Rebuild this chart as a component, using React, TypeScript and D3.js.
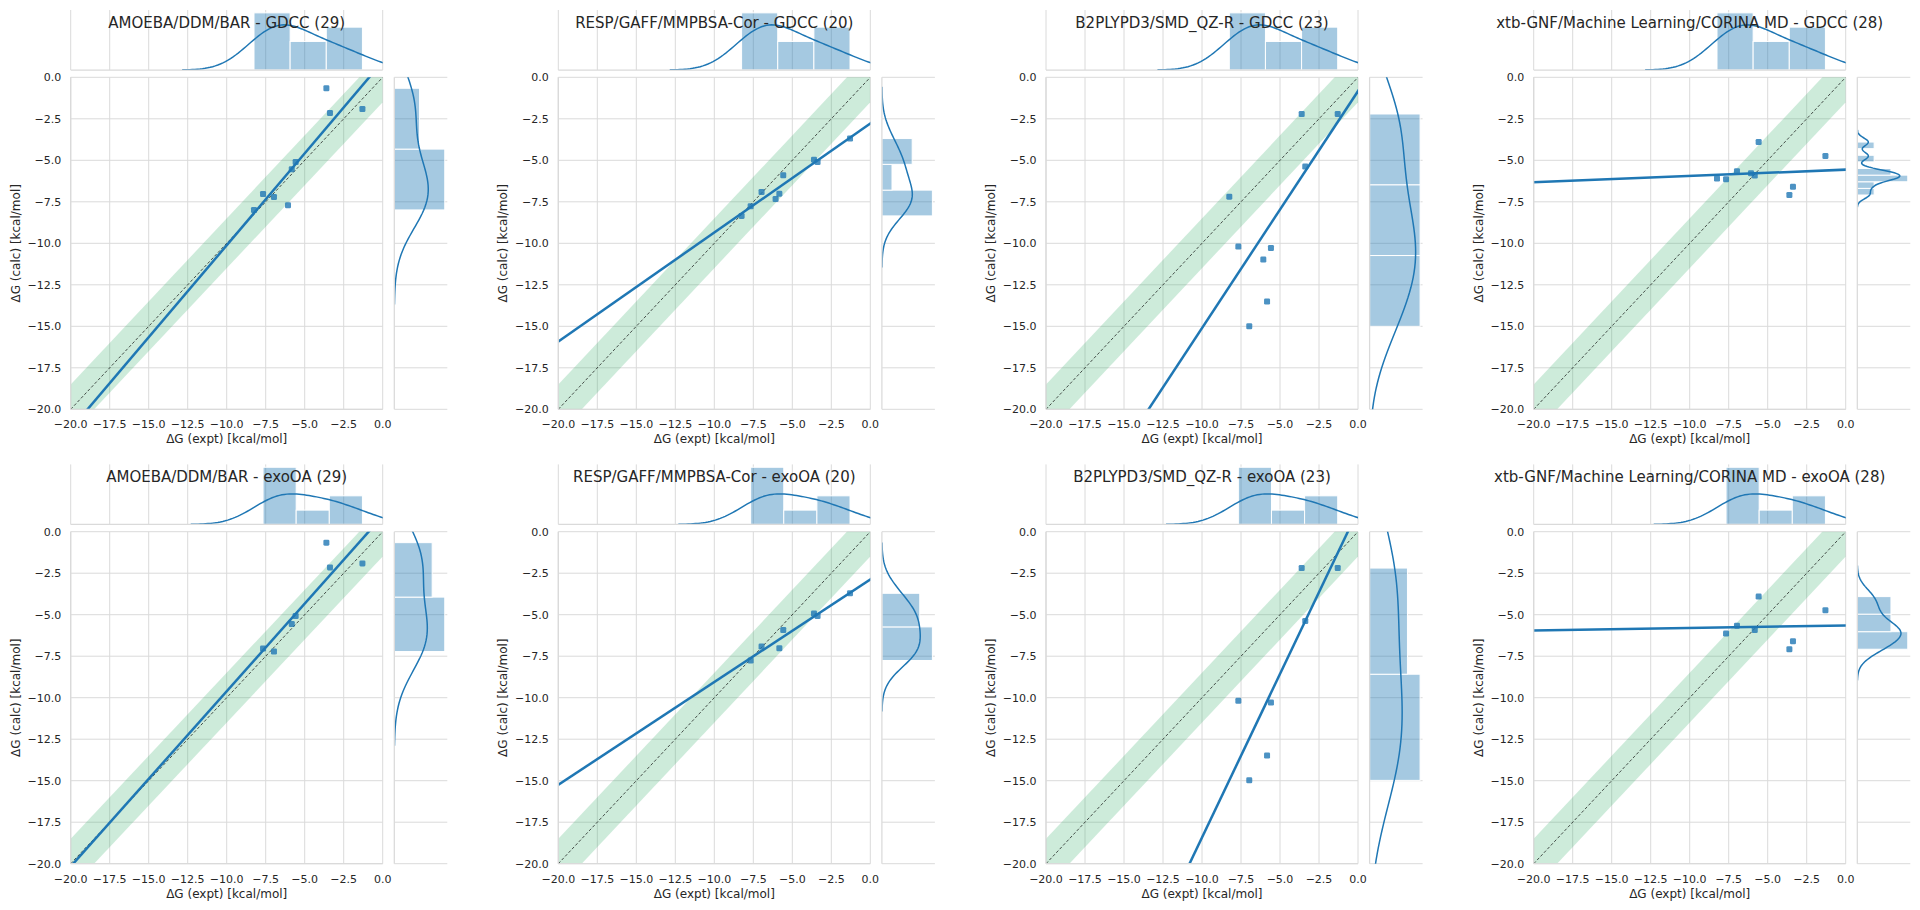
import React from "react";
import * as d3 from "d3";

// experimental values (x axis), same order as the calc arrays below
const EXPT_GDCC = [-8.25, -7.67, -6.97, -6.07, -5.83, -5.58, -3.61, -3.38, -1.3];
const EXPT_EXOOA = [-7.67, -6.97, -5.83, -5.58, -3.61, -3.38, -1.3];

// calculated values per method
const AMOEBA_GDCC = [-7.99, -7.03, -7.21, -7.71, -5.54, -5.1, -0.66, -2.15, -1.91];
const RESP_GDCC = [-8.35, -7.77, -6.91, -7.33, -7.01, -5.9, -4.96, -5.1, -3.69];
const B2PLYP_GDCC = [-7.19, -10.2, -15.0, -10.98, -13.51, -10.28, -2.21, -5.38, -2.21];
const XTB_GDCC = [-6.1, -6.14, -5.66, -5.78, -5.92, -3.9, -7.09, -6.59, -4.74];

const AMOEBA_EXOOA = [-7.04, -7.22, -5.56, -5.08, -0.66, -2.15, -1.91];
const RESP_EXOOA = [-7.76, -6.92, -7.02, -5.92, -4.93, -5.08, -3.71];
const B2PLYP_EXOOA = [-10.19, -14.98, -13.48, -10.29, -2.19, -5.38, -2.19];
const XTB_EXOOA = [-6.14, -5.66, -5.92, -3.91, -7.08, -6.6, -4.73];

const TITLES_GDCC = [
    "AMOEBA/DDM/BAR - GDCC (29)",
    "RESP/GAFF/MMPBSA-Cor - GDCC (20)",
    "B2PLYPD3/SMD_QZ-R - GDCC (23)",
    "xtb-GNF/Machine Learning/CORINA MD - GDCC (28)",
];
const TITLES_EXOOA = [
    "AMOEBA/DDM/BAR - exoOA (29)",
    "RESP/GAFF/MMPBSA-Cor - exoOA (20)",
    "B2PLYPD3/SMD_QZ-R - exoOA (23)",
    "xtb-GNF/Machine Learning/CORINA MD - exoOA (28)",
];

// histogram bin counts of the marginals
const BINS_X = 3;
const BINS_Y_GDCC = [2, 3, 3, 8];
const BINS_Y_EXOOA = [2, 2, 2, 3];

const TICKS = [-20, -17.5, -15, -12.5, -10, -7.5, -5, -2.5, 0];
const BAND = 1.5;

const X_LABEL = "ΔG (expt) [kcal/mol]";
const Y_LABEL = "ΔG (calc) [kcal/mol]";

// layout
const COL_X = [70.7, 558.3, 1046, 1533.7];
const ROW_Y = [77.3, 531.7];
const MAIN_W = 312;
const MAIN_H = 332;
const MARG_H = 60;
const MARG_GAP_Y = 7.3;
const MARG_GAP_X = 11.6;
const MARG_W = 53;

const BLUE = "#1f77b4";
const GRID = "#dadada";
const TEXT = "#262626";
const FONT = "DejaVu Sans, sans-serif";

const fmt = d3.format(".1f");

type Panel = {
    id: string;
    title: string;
    expt: number[];
    calc: number[];
    binsY: number;
    left: number;
    top: number;
};

// statsmodels-like gaussian kde (scott bandwidth, cut=3, 100 pts)
function kdeCurve(values: number[]) {
    const n = values.length;
    const sorted = [...values].sort(d3.ascending);
    const sd = d3.deviation(values) as number;
    const iqr = (d3.quantileSorted(sorted, 0.75) as number) - (d3.quantileSorted(sorted, 0.25) as number);
    const bw = 1.059 * Math.min(sd, iqr / 1.349) * Math.pow(n, -0.2);
    const lo = (d3.min(values) as number) - 3 * bw;
    const hi = (d3.max(values) as number) + 3 * bw;
    return d3.range(100).map((i) => {
        const g = lo + ((hi - lo) * i) / 99;
        const dens =
            d3.sum(values, (v) => Math.exp(-0.5 * ((g - v) / bw) ** 2)) /
            (n * bw * Math.sqrt(2 * Math.PI));
        return [g, dens] as [number, number];
    });
}

function histBins(values: number[], nb: number) {
    const [lo, hi] = d3.extent(values) as [number, number];
    const w = (hi - lo) / nb;
    const binner = d3
        .bin()
        .domain([lo, hi])
        .thresholds(d3.range(1, nb).map((k) => lo + k * w));
    return binner(values).map((b) => ({
        x0: b.x0 as number,
        x1: b.x1 as number,
        d: b.length / (values.length * w),
    }));
}

function linearFit(xs: number[], ys: number[]) {
    const mx = d3.mean(xs) as number;
    const my = d3.mean(ys) as number;
    let sxy = 0;
    let sxx = 0;
    xs.forEach((x, i) => {
        sxy += (x - mx) * (ys[i] - my);
        sxx += (x - mx) ** 2;
    });
    const slope = sxy / sxx;
    return { slope, intercept: my - slope * mx };
}

const JointPanel = ({ id, title, expt, calc, binsY, left, top }: Panel) => {
    const right = left + MAIN_W;
    const bottom = top + MAIN_H;
    const xScale = d3.scaleLinear().domain([-20, 0]).range([left, right]);
    const yScale = d3.scaleLinear().domain([-20, 0]).range([bottom, top]);

    // top marginal
    const mTop = top - MARG_GAP_Y - MARG_H;
    const mBottom = top - MARG_GAP_Y;
    const histX = histBins(expt, BINS_X);
    const kdeX = kdeCurve(expt);
    const maxX = Math.max(d3.max(histX, (b) => b.d) as number, d3.max(kdeX, (p) => p[1]) as number);
    const dScaleX = d3.scaleLinear().domain([0, maxX * 1.05]).range([mBottom, mTop]);

    // right marginal
    const rLeft = right + MARG_GAP_X;
    const rRight = rLeft + MARG_W;
    const histY = histBins(calc, binsY);
    const kdeY = kdeCurve(calc);
    const maxY = Math.max(d3.max(histY, (b) => b.d) as number, d3.max(kdeY, (p) => p[1]) as number);
    const dScaleY = d3.scaleLinear().domain([0, maxY * 1.05]).range([rLeft, rRight]);

    const lineTop = d3
        .line<[number, number]>()
        .x((p) => xScale(p[0]))
        .y((p) => dScaleX(p[1]));
    const lineRight = d3
        .line<[number, number]>()
        .x((p) => dScaleY(p[1]))
        .y((p) => yScale(p[0]));

    const fit = linearFit(expt, calc);
    const bandPts: [number, number][] = [
        [-20, -20 - BAND],
        [0, -BAND],
        [0, BAND],
        [-20, -20 + BAND],
    ];
    const bandPath = d3.line<[number, number]>().x((p) => xScale(p[0])).y((p) => yScale(p[1]))(bandPts) + "Z";

    return (
        <g>
            <defs>
                <clipPath id={`main-${id}`}>
                    <rect x={left} y={top} width={MAIN_W} height={MAIN_H} />
                </clipPath>
                <clipPath id={`mx-${id}`}>
                    <rect x={left} y={mTop} width={MAIN_W} height={MARG_H} />
                </clipPath>
                <clipPath id={`my-${id}`}>
                    <rect x={rLeft} y={top} width={MARG_W} height={MAIN_H} />
                </clipPath>
            </defs>

            {/* top marginal */}
            {TICKS.map((t) => (
                <line key={`mxg${t}`} x1={xScale(t)} x2={xScale(t)} y1={mTop} y2={mBottom} stroke={GRID} strokeWidth={1} />
            ))}
            <g clipPath={`url(#mx-${id})`}>
                {histX.map((b, i) => (
                    <rect
                        key={i}
                        x={xScale(b.x0)}
                        y={dScaleX(b.d)}
                        width={xScale(b.x1) - xScale(b.x0)}
                        height={mBottom - dScaleX(b.d)}
                        fill={BLUE}
                        fillOpacity={0.4}
                        stroke="#fff"
                        strokeWidth={1}
                    />
                ))}
                <path d={lineTop(kdeX) as string} fill="none" stroke={BLUE} strokeWidth={1.5} />
            </g>
            <line x1={left} x2={right} y1={mBottom} y2={mBottom} stroke={GRID} strokeWidth={1.25} />

            {/* right marginal */}
            {TICKS.map((t) => (
                <line key={`myg${t}`} x1={rLeft} x2={rRight} y1={yScale(t)} y2={yScale(t)} stroke={GRID} strokeWidth={1} />
            ))}
            <g clipPath={`url(#my-${id})`}>
                {histY.map((b, i) => (
                    <rect
                        key={i}
                        x={rLeft}
                        y={yScale(b.x1)}
                        width={dScaleY(b.d) - rLeft}
                        height={yScale(b.x0) - yScale(b.x1)}
                        fill={BLUE}
                        fillOpacity={0.4}
                        stroke="#fff"
                        strokeWidth={1}
                    />
                ))}
                <path d={lineRight(kdeY) as string} fill="none" stroke={BLUE} strokeWidth={1.5} />
            </g>
            <line x1={rLeft} x2={rLeft} y1={top} y2={bottom} stroke={GRID} strokeWidth={1.25} />

            {/* main joint plot */}
            {TICKS.map((t) => (
                <g key={`g${t}`}>
                    <line x1={xScale(t)} x2={xScale(t)} y1={top} y2={bottom} stroke={GRID} strokeWidth={1} />
                    <line x1={left} x2={right} y1={yScale(t)} y2={yScale(t)} stroke={GRID} strokeWidth={1} />
                </g>
            ))}
            <g clipPath={`url(#main-${id})`}>
                <path d={bandPath} fill="#3cb371" fillOpacity={0.26} />
                <line
                    x1={xScale(-20)}
                    y1={yScale(-20)}
                    x2={xScale(0)}
                    y2={yScale(0)}
                    stroke="#000"
                    strokeOpacity={0.85}
                    strokeWidth={0.8}
                    strokeDasharray="3,2"
                />
                {expt.map((x, i) => (
                    <rect
                        key={i}
                        x={xScale(x) - 3}
                        y={yScale(calc[i]) - 3}
                        width={6}
                        height={6}
                        rx={1.3}
                        fill={BLUE}
                        fillOpacity={0.8}
                    />
                ))}
                <line
                    x1={xScale(-25)}
                    y1={yScale(fit.intercept + fit.slope * -25)}
                    x2={xScale(5)}
                    y2={yScale(fit.intercept + fit.slope * 5)}
                    stroke={BLUE}
                    strokeWidth={2.5}
                />
            </g>
            <line x1={left} x2={left} y1={top} y2={bottom} stroke={GRID} strokeWidth={1.25} />
            <line x1={left} x2={right} y1={bottom} y2={bottom} stroke={GRID} strokeWidth={1.25} />

            {/* ticks */}
            {TICKS.map((t) => (
                <text
                    key={`xt${t}`}
                    x={xScale(t)}
                    y={bottom + 19}
                    textAnchor="middle"
                    fontSize={11}
                    fill={TEXT}
                    fontFamily={FONT}
                >
                    {fmt(t)}
                </text>
            ))}
            {TICKS.map((t) => (
                <text
                    key={`yt${t}`}
                    x={left - 9.5}
                    y={yScale(t)}
                    dy="0.36em"
                    textAnchor="end"
                    fontSize={11}
                    fill={TEXT}
                    fontFamily={FONT}
                >
                    {fmt(t)}
                </text>
            ))}
            <text
                x={(left + right) / 2}
                y={bottom + 34}
                textAnchor="middle"
                fontSize={12}
                fill={TEXT}
                fontFamily={FONT}
            >
                {X_LABEL}
            </text>
            <text
                transform={`translate(${left - 51}, ${(top + bottom) / 2}) rotate(-90)`}
                textAnchor="middle"
                fontSize={12}
                fill={TEXT}
                fontFamily={FONT}
            >
                {Y_LABEL}
            </text>
            <text
                x={(left + right) / 2}
                y={mTop + 17.7}
                textAnchor="middle"
                fontSize={15}
                fill={TEXT}
                fontFamily={FONT}
            >
                {title}
            </text>
        </g>
    );
};

const App = () => {
    const gdcc = [AMOEBA_GDCC, RESP_GDCC, B2PLYP_GDCC, XTB_GDCC];
    const exooa = [AMOEBA_EXOOA, RESP_EXOOA, B2PLYP_EXOOA, XTB_EXOOA];

    return (
        <svg
            width={1920}
            height={910}
            style={{ position: "absolute", left: 0, top: 0, background: "#fff" }}
        >
            {gdcc.map((calc, i) => (
                <JointPanel
                    key={`g${i}`}
                    id={`g${i}`}
                    title={TITLES_GDCC[i]}
                    expt={EXPT_GDCC}
                    calc={calc}
                    binsY={BINS_Y_GDCC[i]}
                    left={COL_X[i]}
                    top={ROW_Y[0]}
                />
            ))}
            {exooa.map((calc, i) => (
                <JointPanel
                    key={`e${i}`}
                    id={`e${i}`}
                    title={TITLES_EXOOA[i]}
                    expt={EXPT_EXOOA}
                    calc={calc}
                    binsY={BINS_Y_EXOOA[i]}
                    left={COL_X[i]}
                    top={ROW_Y[1]}
                />
            ))}
        </svg>
    );
};

export default App;
